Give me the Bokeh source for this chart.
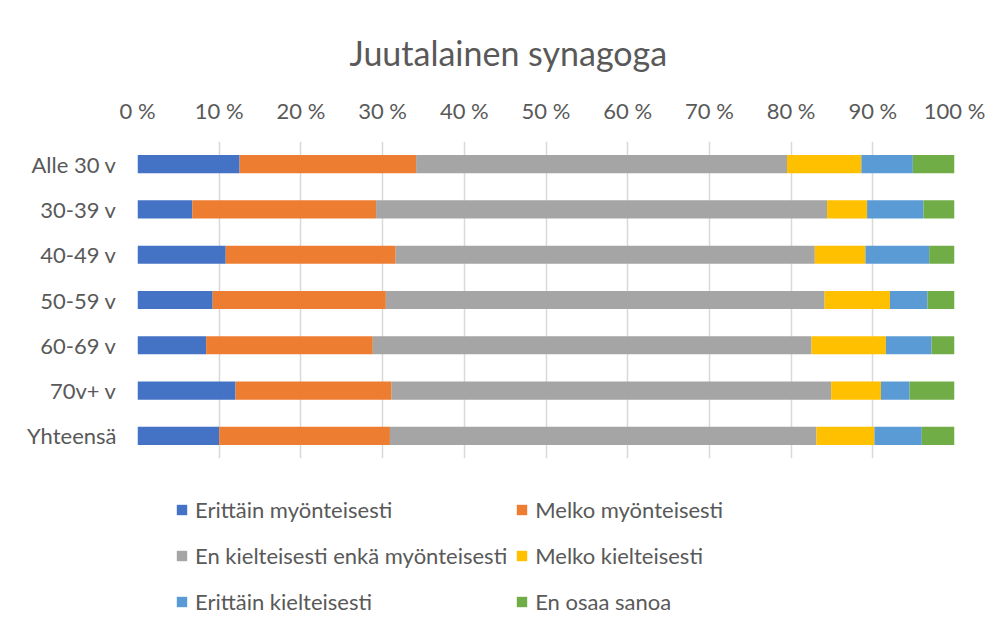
from bokeh.plotting import figure
from bokeh.layouts import column
from bokeh.models import FactorRange, Range1d, FixedTicker, Legend, LegendItem, ColumnDataSource
from bokeh.embed import file_html
from bokeh.resources import INLINE

categories = ["Alle 30 v", "30-39 v", "40-49 v", "50-59 v", "60-69 v", "70v+ v", "Yhteensä"]
series_names = [
    "Erittäin myönteisesti",
    "Melko myönteisesti",
    "En kielteisesti enkä myönteisesti",
    "Melko kielteisesti",
    "Erittäin kielteisesti",
    "En osaa sanoa",
]
erittain_myonteisesti = [12.5, 6.7, 10.8, 9.2, 8.4, 12.0, 10.0]
melko_myonteisesti = [21.6, 22.5, 20.8, 21.2, 20.4, 19.1, 20.9]
en_kielteisesti_enka = [45.4, 55.2, 51.3, 53.7, 53.7, 53.8, 52.2]
melko_kielteisesti = [9.1, 4.9, 6.2, 8.0, 9.1, 6.1, 7.1]
erittain_kielteisesti = [6.3, 6.9, 7.8, 4.6, 5.6, 3.5, 5.8]
en_osaa_sanoa = [5.1, 3.8, 3.1, 3.3, 2.8, 5.5, 4.0]
tick_values = [0, 10, 20, 30, 40, 50, 60, 70, 80, 90, 100]
tick_labels = ["0 %", "10 %", "20 %", "30 %", "40 %", "50 %", "60 %", "70 %", "80 %", "90 %", "100 %"]
colors = ["#4472C4", "#ED7D31", "#A5A5A5", "#FFC000", "#5B9BD5", "#70AD47"]

keys = ["s0", "s1", "s2", "s3", "s4", "s5"]
series = [erittain_myonteisesti, melko_myonteisesti, en_kielteisesti_enka,
          melko_kielteisesti, erittain_kielteisesti, en_osaa_sanoa]
data = {"cat": categories}
for k, s in zip(keys, series):
    data[k] = s
source = ColumnDataSource(data)

FONT = "Lato"
TXT = "#595959"

p = figure(
    width=985, height=460,
    y_range=FactorRange(*reversed(categories)),
    x_range=Range1d(0, 100),
    x_axis_location="above",
    output_backend="svg", toolbar_location=None,
    min_border_left=137, min_border_right=31, min_border_top=141, min_border_bottom=2,
)

p.hbar_stack(keys, y="cat", height=0.4, color=colors, source=source, line_color=None)

p.title.text = "Juutalainen synagoga"
p.title.align = "left"
p.title.offset = 212
p.title.standoff = 42
p.title.text_font = FONT
p.title.text_font_size = "34px"
p.title.text_font_style = "normal"
p.title.text_color = TXT

xa = p.xaxis[0]
xa.ticker = FixedTicker(ticks=tick_values)
xa.major_label_overrides = {v: l for v, l in zip(tick_values, tick_labels)}
xa.axis_line_color = None
xa.major_tick_line_color = None
xa.major_tick_out = 0
xa.major_tick_in = 0
xa.minor_tick_line_color = None
xa.major_label_text_font = FONT
xa.major_label_text_font_size = "22px"
xa.major_label_text_color = TXT
xa.major_label_standoff = 18

ya = p.yaxis[0]
ya.axis_line_color = None
ya.major_tick_line_color = None
ya.major_tick_out = 0
ya.major_tick_in = 0
ya.minor_tick_line_color = None
ya.major_label_text_font = FONT
ya.major_label_text_font_size = "22px"
ya.major_label_text_color = TXT
ya.major_label_standoff = 21

p.xgrid.grid_line_color = "#d9d9d9"
p.xgrid.grid_line_width = 1.5
p.ygrid.grid_line_color = None
p.outline_line_color = None

# legend panel below the chart (swatch-only renderers, nothing drawn in the panel itself)
lp = figure(
    width=985, height=160,
    x_range=Range1d(0, 1), y_range=Range1d(0, 1),
    x_axis_type=None, y_axis_type=None,
    output_backend="svg", toolbar_location=None, min_border=0,
)
lp.outline_line_color = None
nan = float("nan")
legend_renderers = [
    lp.hbar(y=[nan], right=[nan], height=0.4, fill_color=c, line_color=None)
    for c in colors
]

items = [LegendItem(label=n, renderers=[r]) for n, r in zip(series_names, legend_renderers)]
legend = Legend(
    items=items, orientation="horizontal", ncols=2,
    location=(38, 0), margin=0, padding=0,
    glyph_width=13, glyph_height=13, label_standoff=7,
    label_text_font=FONT, label_text_font_size="22px", label_text_color=TXT,
    label_height=38, spacing=8, border_line_color=None, background_fill_alpha=0,
)
lp.add_layout(legend)

layout = column(p, lp, spacing=0)
open("out.html", "w").write(file_html(layout, INLINE))
